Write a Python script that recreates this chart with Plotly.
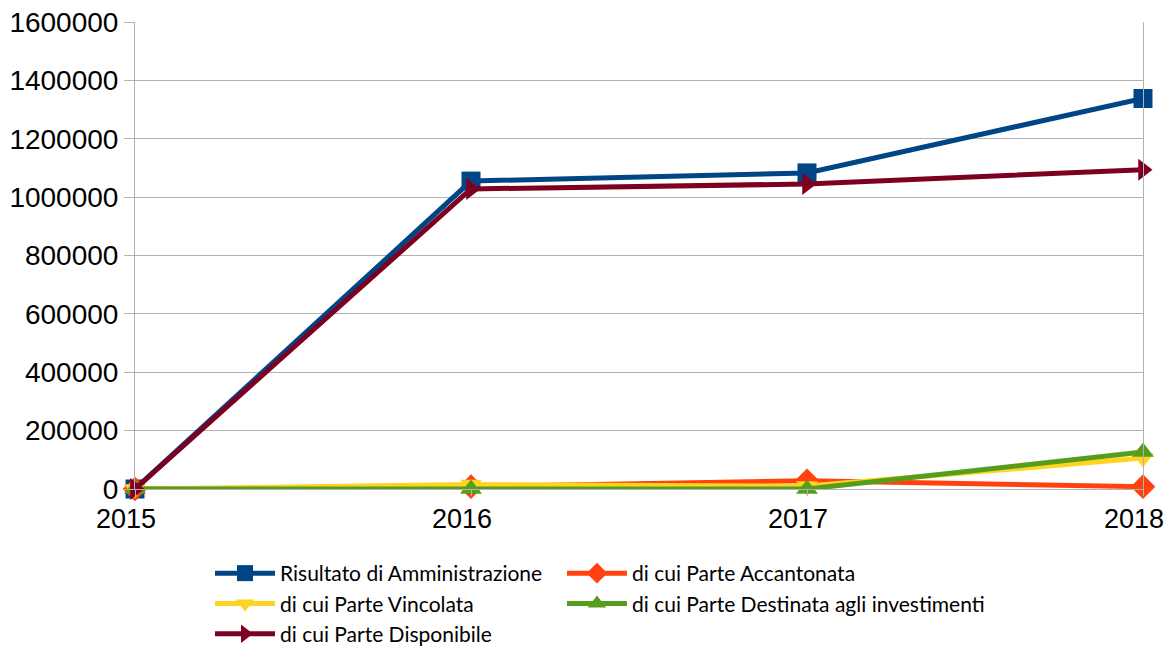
import plotly.graph_objects as go

# Dati
anni = [2015, 2016, 2017, 2018]
risultato = [0, 1055000, 1083000, 1338000]
accantonata = [0, 8000, 28000, 8000]
vincolata = [0, 15000, 10000, 106000]
investimenti = [0, 0, 0, 127000]
disponibile = [0, 1028000, 1045000, 1094000]

# (nome, valori, colore, simbolo, legenda)
serie = [
    ("Risultato di Amministrazione", risultato, "#004586", "square", "legend"),
    ("di cui Parte Accantonata", accantonata, "#ff420e", "diamond", "legend2"),
    ("di cui Parte Vincolata", vincolata, "#ffd320", "triangle-down", "legend"),
    ("di cui Parte Destinata agli investimenti", investimenti, "#579d1c", "triangle-up", "legend2"),
    ("di cui Parte Disponibile", disponibile, "#7e0021", "triangle-right", "legend"),
]

fig = go.Figure()
for nome, valori, colore, simbolo, leg in serie:
    fig.add_trace(go.Scatter(
        x=anni, y=valori, name=nome,
        mode="lines+markers",
        line=dict(color=colore, width=5),
        marker=dict(color=colore, symbol=simbolo, size=19),
        cliponaxis=False,
        legend=leg, legendgroup=nome,
    ))

legenda = dict(
    orientation="v",
    y=-0.137, yanchor="top",
    traceorder="normal",
    font=dict(family="Lato, sans-serif", size=21),
    itemwidth=60,
    tracegroupgap=7,
    bgcolor="rgba(0,0,0,0)",
)

# la pagina ha un margine di 8px: margini ridotti di conseguenza
fig.update_layout(
    width=1172, height=643,
    margin=dict(l=127, r=37, t=14, b=162, autoexpand=False),
    plot_bgcolor="white",
    paper_bgcolor="white",
    font=dict(family="Liberation Sans, Arial, sans-serif", color="black"),
    showlegend=True,
    legend=dict(legenda, x=0.0744, xanchor="left"),
    legend2=dict(legenda, x=0.4236, xanchor="left"),
)

fig.update_xaxes(
    range=[2015, 2018], tickvals=anni, ticktext=[str(a) for a in anni],
    showgrid=False, showline=True, linecolor="#b3b3b3", linewidth=1,
    ticks="outside", ticklen=6, tickcolor="#b3b3b3",
    tickfont=dict(size=27), zeroline=False, ticklabelshift=-9,
    automargin=False, ticklabeloverflow="allow",
)
fig.update_yaxes(
    range=[0, 1600000], dtick=200000, tickformat="d",
    showgrid=True, gridcolor="#b3b3b3", gridwidth=1,
    showline=True, linecolor="#b3b3b3", linewidth=1, mirror=True,
    ticks="outside", ticklen=10, tickcolor="#b3b3b3",
    tickfont=dict(size=28), zeroline=False,
    automargin=False, ticklabeloverflow="allow",
)

fig.write_html("out.html")
